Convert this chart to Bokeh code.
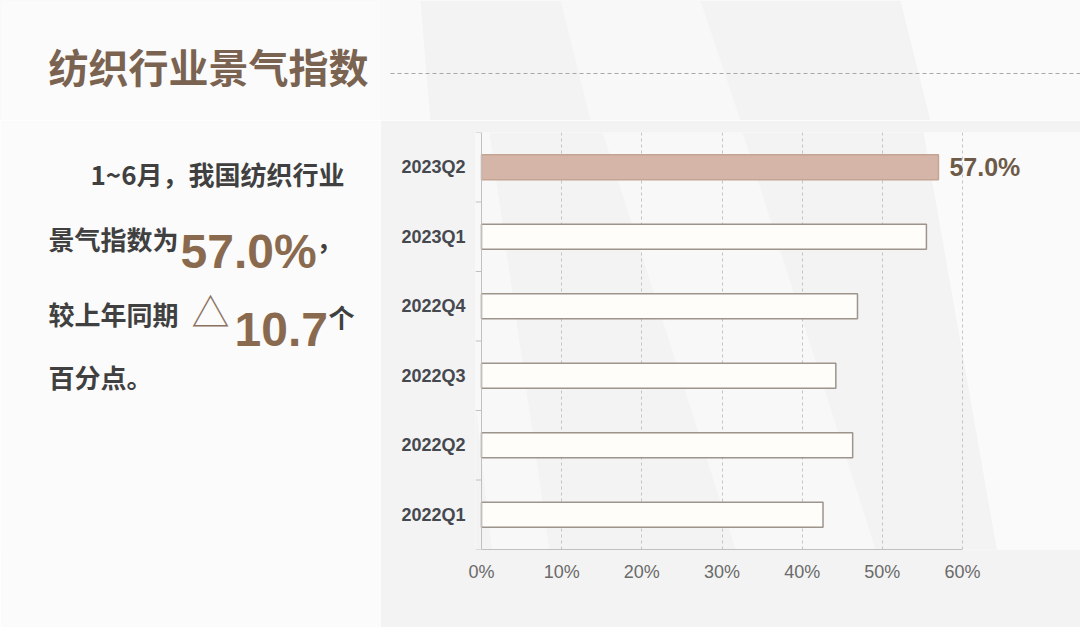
from bokeh.plotting import figure
from bokeh.layouts import column, row
from bokeh.models import (FactorRange, Range1d, LinearAxis, CategoricalAxis, FixedTicker,
                          Label, PolyAnnotation, Arrow, Span)
from bokeh.embed import file_html
from bokeh.resources import INLINE

# ---------------- data ----------------
categories = ["2022Q1", "2022Q2", "2022Q3", "2022Q4", "2023Q1", "2023Q2"]
values = [42.6, 46.3, 44.2, 46.9, 55.5, 57.0]
highlight = "2023Q2"
same_period_last_year = "2022Q2"
x_ticks = [0, 10, 20, 30, 40, 50, 60]
x_tick_labels = ["0%", "10%", "20%", "30%", "40%", "50%", "60%"]
title_text = "纺织行业景气指数"

# ---------------- layout constants (page pixels) ----------------
PAGE_W, PAGE_H = 1080, 627
TOP_H = 120                 # title band
LEFT_W = 380                # commentary panel
AX0, AX60 = 481, 962        # x pixel of 0% and 60%
FRAME_T, FRAME_B = 132, 549
TICK_LEN = 6

CJK = "Noto Sans CJK SC"
LATIN = "Liberation Sans"
BROWN = "#8a6a4f"
DARK = "#404040"
BG = "#f3f3f3"
LIGHT = "#fbfbfb"


def shade(f, xs, ys, color="#ffffff", alpha=0.6, **kw):
    f.add_layout(PolyAnnotation(xs=xs, ys=ys, fill_color=color, fill_alpha=alpha,
                                line_color=None, level="image", **kw))


# ---------------- title band ----------------
top = figure(width=PAGE_W, height=TOP_H, title=None,
             x_range=Range1d(0, PAGE_W), y_range=Range1d(TOP_H, 0),
             x_axis_location=None, y_axis_location=None, min_border=0,
             output_backend="svg", toolbar_location=None)
top.grid.visible = False
top.outline_line_color = None
top.background_fill_color = BG
top.border_fill_color = BG
shade(top, [0, 380, 380, 0], [0, 0, TOP_H, TOP_H], color=LIGHT, alpha=1.0)
shade(top, [380, 420, 430, 380], [0, 0, TOP_H, TOP_H], alpha=0.5)
shade(top, [560, 700, 740, 590], [0, 0, TOP_H, TOP_H], alpha=0.4)
shade(top, [900, 1080, 1080, 930], [0, 0, TOP_H, TOP_H], alpha=0.6)
top.add_layout(Label(x=48, y=65, text=title_text, text_font=CJK, text_font_size="40px",
                     text_font_style="bold", text_color="#7a6350", text_baseline="middle"))
top.add_layout(Arrow(end=None, x_start=390, y_start=73, x_end=PAGE_W, y_end=73,
                     line_color="#a8a8a8", line_dash="4 3", line_width=1))

# ---------------- commentary panel ----------------
left = figure(width=LEFT_W, height=PAGE_H - TOP_H, title=None,
              x_range=Range1d(0, LEFT_W), y_range=Range1d(FRAME_B, FRAME_T),
              x_axis_location=None, y_axis_location=None,
              min_border_left=0, min_border_right=0,
              min_border_top=FRAME_T - TOP_H, min_border_bottom=PAGE_H - FRAME_B,
              output_backend="svg", toolbar_location=None)
left.grid.visible = False
left.outline_line_color = None
left.background_fill_color = LIGHT
left.border_fill_color = LIGHT

hi_idx = categories.index(highlight)
delta = values[hi_idx] - values[categories.index(same_period_last_year)]


def txt(text, X, Y, size, color=DARK, font=CJK, baseline="middle", style="bold"):
    left.add_layout(Label(x=X, y=Y, text=text, text_font=font, text_font_size=size,
                          text_font_style=style, text_color=color, text_baseline=baseline))


txt("1~6月，我国纺织行业", 90, 173, "26px")
txt("景气指数为", 48, 238, "26px")
txt(f"{values[hi_idx]:.1f}%", 180, 251, "48px", color=BROWN, font=LATIN, baseline="alphabetic")
txt("，", 316, 238, "26px")
txt("较上年同期", 48, 313, "26px")
txt("△", 191, 309, "38px", color="#8c7262", style="normal")
txt(f"{delta:.1f}", 234, 329, "48px", color=BROWN, font=LATIN, baseline="alphabetic")
txt("个", 328, 316, "26px")
txt("百分点。", 48, 376, "26px")

# ---------------- chart ----------------
px_per_unit = (AX60 - AX0) / (x_ticks[-1] - x_ticks[0])
frame_left = AX0 - TICK_LEN
chart_w = PAGE_W - LEFT_W
chart_h = PAGE_H - TOP_H

p = figure(width=chart_w, height=chart_h, title=None,
           x_range=Range1d(x_ticks[0] - TICK_LEN / px_per_unit,
                           x_ticks[0] + (PAGE_W - AX0) / px_per_unit),
           y_range=FactorRange(*categories, range_padding=0),
           x_axis_location=None, y_axis_location=None,
           output_backend="svg", toolbar_location=None,
           min_border_left=frame_left - LEFT_W, min_border_right=0,
           min_border_top=FRAME_T - TOP_H, min_border_bottom=PAGE_H - FRAME_B)
p.outline_line_color = None
p.border_fill_color = BG
p.background_fill_color = BG


def fshade(xs, ys, alpha):
    p.add_layout(PolyAnnotation(xs=[x - frame_left for x in xs], ys=[FRAME_B - y for y in ys],
                                xs_units="screen", ys_units="screen", fill_color="#ffffff",
                                fill_alpha=alpha, line_color=None, level="image"))


fshade([430, 470, 560, 500], [0, 0, 627, 627], 0.45)
fshade([560, 700, 900, 760], [0, 0, 627, 627], 0.4)
fshade([900, 1080, 1080, 1010], [0, 0, 627, 627], 0.6)

p.xgrid.ticker = FixedTicker(ticks=x_ticks[1:])
p.xgrid.grid_line_color = "#c4c4c4"
p.xgrid.grid_line_dash = "3 3"
p.ygrid.grid_line_color = None

xaxis = LinearAxis(ticker=FixedTicker(ticks=x_ticks), bounds=(x_ticks[0], x_ticks[-1]),
                   major_label_overrides={t: l for t, l in zip(x_ticks, x_tick_labels)},
                   axis_line_color="#c0c0c0", major_tick_line_color=None,
                   major_tick_in=0, major_tick_out=0,
                   minor_tick_line_color=None, major_label_standoff=12,
                   major_label_text_font=LATIN, major_label_text_font_size="18px",
                   major_label_text_color="#6a6a6a")
p.add_layout(xaxis, "below")

cat_axis = CategoricalAxis(axis_line_color=None, major_tick_line_color=None,
                           major_tick_in=0, major_tick_out=0, major_label_standoff=10,
                           major_label_text_font=LATIN, major_label_text_font_size="18px",
                           major_label_text_font_style="bold",
                           major_label_text_color="#45484e")
p.add_layout(cat_axis, "left")

# value axis line at 0 and tick marks at category boundaries
p.add_layout(Span(location=x_ticks[0], dimension="height", line_color="#c0c0c0", line_width=1))
boundaries = list(range(len(categories) + 1))
p.segment(x0=x_ticks[0] - TICK_LEN / px_per_unit, x1=x_ticks[0], y0=boundaries, y1=boundaries,
          line_color="#c0c0c0", line_width=1)

fills = ["#d5b5a7" if c == highlight else "#fffdf9" for c in categories]
lines = ["#c4a493" if c == highlight else "#9d948c" for c in categories]
p.hbar(y=categories, left=0, right=values, height=0.36,
       fill_color=fills, line_color=lines, line_width=1.5)

p.add_layout(Label(x=values[hi_idx], y=hi_idx + 0.5, x_offset=11,
                   text=f"{values[hi_idx]:.1f}%", text_baseline="middle",
                   text_font=LATIN, text_font_size="25px", text_font_style="bold",
                   text_color="#6e5a49"))

layout = column(top, row(left, p, spacing=0), spacing=0)
open("out.html", "w").write(file_html(layout, INLINE))
